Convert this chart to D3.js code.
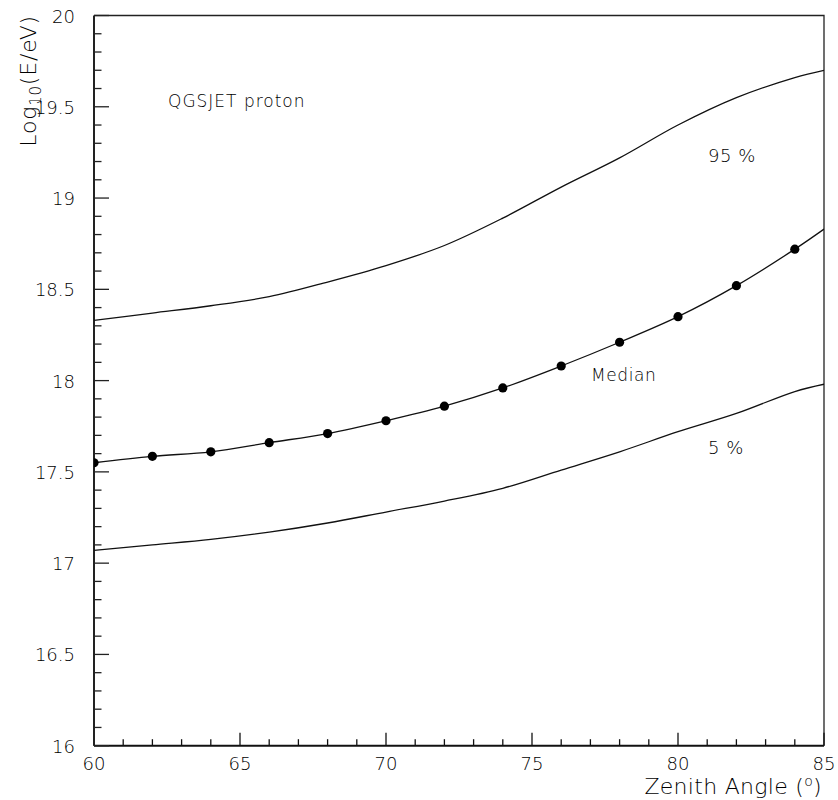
<!DOCTYPE html>
<html>
<head>
<meta charset="utf-8">
<script src="https://cdn.jsdelivr.net/npm/d3@7"></script>
<style>
  html, body { margin: 0; padding: 0; background: #fff; }
  svg { display: block; }
  text { font-family: "DejaVu Sans", sans-serif; font-weight: 200; fill: #000; }
</style>
</head>
<body>
<svg id="chart" width="838" height="800"></svg>
<script>
// Zenith angles (degrees) at which the curves are sampled
const angles = [60, 62, 64, 66, 68, 70, 72, 74, 76, 78, 80, 82, 84, 85];
// Median log10(E/eV); the markers sit at 60..84 only
const median = [17.55, 17.585, 17.61, 17.66, 17.71, 17.78, 17.86, 17.96, 18.08, 18.21, 18.35, 18.52, 18.72, 18.83];
const markerAngles = [60, 62, 64, 66, 68, 70, 72, 74, 76, 78, 80, 82, 84];
// Upper (95 %) and lower (5 %) bands
const upper95 = [18.33, 18.37, 18.41, 18.46, 18.54, 18.63, 18.74, 18.89, 19.06, 19.22, 19.40, 19.55, 19.66, 19.70];
const lower5 = [17.07, 17.10, 17.13, 17.17, 17.22, 17.28, 17.34, 17.41, 17.51, 17.61, 17.72, 17.82, 17.94, 17.98];
// Axis ticks
const xTicks = [60, 65, 70, 75, 80, 85];
const yTicks = [16, 16.5, 17, 17.5, 18, 18.5, 19, 19.5, 20];

const svg = d3.select("#chart");
const plotLeft = 94, plotRight = 824, plotTop = 15.5, plotBottom = 745.7;

const x = d3.scaleLinear().domain([60, 85]).range([plotLeft, plotRight]);
const y = d3.scaleLinear().domain([16, 20]).range([plotBottom, plotTop]);

svg.append("defs").append("clipPath").attr("id", "plot")
  .append("rect").attr("x", plotLeft).attr("y", plotTop)
  .attr("width", plotRight - plotLeft).attr("height", plotBottom - plotTop);

// frame (top and right edges)
svg.append("path")
  .attr("d", `M${plotLeft},${plotTop}H${plotRight}V${plotBottom}`)
  .attr("fill", "none").attr("stroke", "#222").attr("stroke-width", 1.3);

// x axis: ticks point into the plot
const xMinor = d3.range(60, 85.01, 1);
const gx = svg.append("g").attr("transform", `translate(0,${plotBottom})`);
gx.selectAll("line.tk").data(xMinor).join("line")
  .attr("x1", d => x(d)).attr("x2", d => x(d))
  .attr("y1", 0).attr("y2", d => (d % 5 === 0 ? -13 : -6.5))
  .attr("stroke", "#111").attr("stroke-width", 1.3);
gx.append("line").attr("x1", plotLeft).attr("x2", plotRight).attr("y1", 0).attr("y2", 0)
  .attr("stroke", "#111").attr("stroke-width", 2);
gx.selectAll("text").data(xTicks).join("text")
  .attr("x", d => x(d)).attr("y", 24)
  .attr("text-anchor", "middle").attr("font-size", 18)
  .text(d => d3.format("d")(d));

// y axis
const yMinor = d3.range(160, 200.1, 1).map(v => v / 10);
const gy = svg.append("g").attr("transform", `translate(${plotLeft},0)`);
gy.selectAll("line.tk").data(yMinor).join("line")
  .attr("y1", d => y(d)).attr("y2", d => y(d))
  .attr("x1", 0).attr("x2", d => (Math.round(d * 10) % 5 === 0 ? 15 : 7.5))
  .attr("stroke", "#222").attr("stroke-width", 1.3);
gy.append("line").attr("x1", 0).attr("x2", 0).attr("y1", plotTop).attr("y2", plotBottom)
  .attr("stroke", "#222").attr("stroke-width", 2);
gy.selectAll("text").data(yTicks).join("text")
  .attr("x", -19).attr("y", d => y(d) + 7)
  .attr("text-anchor", "end").attr("font-size", 18)
  .text(d => d3.format("~g")(d));

// axis titles
const xt = svg.append("text").attr("x", 822).attr("y", 794)
  .attr("text-anchor", "end").attr("font-size", 22).attr("letter-spacing", 0.3);
xt.append("tspan").text("Zenith Angle (");
xt.append("tspan").attr("font-size", 14).attr("dy", -8).text("o");
xt.append("tspan").attr("dy", 8).text(")");

const yt = svg.append("text").attr("transform", "translate(36,15) rotate(-90)")
  .attr("text-anchor", "end").attr("font-size", 22).attr("letter-spacing", 0.8);
yt.append("tspan").text("Log");
yt.append("tspan").attr("font-size", 15).attr("dy", 5).text("10");
yt.append("tspan").attr("dy", -5).text("(E/eV)");

// curves
const plot = svg.append("g").attr("clip-path", "url(#plot)");
const line = d3.line().x(d => x(d[0])).y(d => y(d[1])).curve(d3.curveCatmullRom.alpha(0.5));
[upper95, median, lower5].forEach(series => {
  plot.append("path")
    .attr("d", line(angles.map((a, i) => [a, series[i]])))
    .attr("fill", "none").attr("stroke", "#111").attr("stroke-width", 1.3);
});

// median markers
plot.selectAll("circle").data(markerAngles).join("circle")
  .attr("cx", d => x(d)).attr("cy", d => y(median[angles.indexOf(d)]))
  .attr("r", 4.6).attr("fill", "#000");

// annotations
svg.append("text").attr("x", 168).attr("y", 107).attr("font-size", 17)
  .attr("letter-spacing", 1).text("QGSJET proton");
svg.append("text").attr("x", 708).attr("y", 162).attr("font-size", 18)
  .attr("letter-spacing", 0.5).text("95 %");
svg.append("text").attr("x", 591).attr("y", 381).attr("font-size", 17)
  .attr("letter-spacing", 0.6).text("Median");
svg.append("text").attr("x", 708).attr("y", 454).attr("font-size", 18)
  .attr("letter-spacing", 0.5).text("5 %");
</script>
</body>
</html>
